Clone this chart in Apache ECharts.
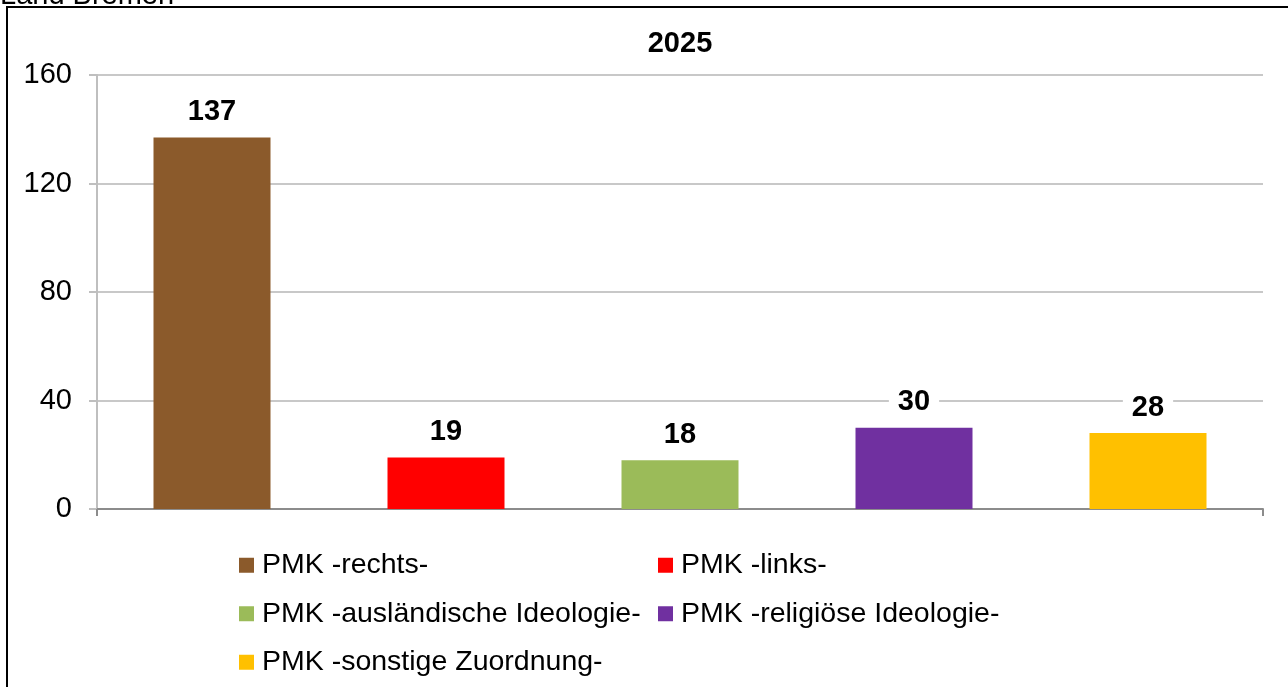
<!DOCTYPE html>
<html><head><meta charset="utf-8">
<script src="https://cdn.jsdelivr.net/npm/echarts@6/dist/echarts.min.js"></script>
<style>html,body{margin:0;padding:0;background:#fff}#c{width:1288px;height:687px}</style>
</head><body><div id="c"></div>
<script>
const seriesNames = ['PMK -rechts-', 'PMK -links-', 'PMK -ausländische Ideologie-', 'PMK -religiöse Ideologie-', 'PMK -sonstige Zuordnung-'];
const values = [137, 19, 18, 30, 28];
const colors = ['#8B5A2B', '#FF0000', '#9BBB59', '#7030A0', '#FFC000'];
const yTicks = [0, 40, 80, 120, 160];
const titleText = '2025';
const headerText = 'Land Bremen';

const FONT = "'Liberation Sans', Arial, sans-serif";
const FS = 29;
const chart = echarts.init(document.getElementById('c'));
const legendBase = {
  orient: 'vertical', itemWidth: 15, itemHeight: 15, itemGap: 18, icon: 'rect',
  selectedMode: false, textStyle: { fontFamily: FONT, fontSize: 28.5, color: '#000', lineHeight: 30.5, padding: [0, 0, 0, 3] }, padding: 0
};
chart.setOption({
  animation: false,
  title: { text: titleText, left: 680, top: 29, textAlign: 'center', padding: 0,
    textStyle: { fontFamily: FONT, fontSize: FS, fontWeight: 'bold', color: '#000' } },
  graphic: [
    { type: 'rect', shape: { x: 7, y: 7, width: 1300, height: 720 }, style: { fill: 'none', stroke: '#000', lineWidth: 2 } },
    { type: 'text', x: 0, y: 10, style: { text: headerText, fontFamily: FONT, fontSize: FS, fill: '#000', textVerticalAlign: 'bottom' } }
  ],
  legend: [
    Object.assign({}, legendBase, { left: 239, top: 550, data: [seriesNames[0], seriesNames[2], seriesNames[4]] }),
    Object.assign({}, legendBase, { left: 658, top: 550, data: [seriesNames[1], seriesNames[3]] })
  ],
  grid: { left: 97, right: 25, top: 75, bottom: 178, containLabel: false },
  xAxis: {
    type: 'category', data: [''],
    axisLine: { lineStyle: { color: '#8C8C8C', width: 2 } },
    axisTick: { show: true, length: 7, lineStyle: { color: '#8C8C8C', width: 2 } },
    axisLabel: { show: false }
  },
  yAxis: {
    type: 'value', min: yTicks[0], max: yTicks[yTicks.length - 1], interval: 40,
    axisLine: { show: true, lineStyle: { color: '#BFBFBF', width: 2 } },
    axisTick: { show: true, length: 8, lineStyle: { color: '#BFBFBF', width: 2 } },
    splitLine: { lineStyle: { color: '#C8C8C8', width: 2 } },
    axisLabel: { margin: 25, fontFamily: FONT, fontSize: FS, color: '#000' }
  },
  series: seriesNames.map((n, i) => ({
    type: 'bar', name: n, data: [values[i]], barWidth: 117, barGap: '100%',
    itemStyle: { color: colors[i] },
    label: { show: true, position: 'top', distance: 11, fontFamily: FONT, fontSize: FS, fontWeight: 'bold',
      color: '#000', backgroundColor: '#fff', padding: [0, 9] }
  }))
});
</script></body></html>
